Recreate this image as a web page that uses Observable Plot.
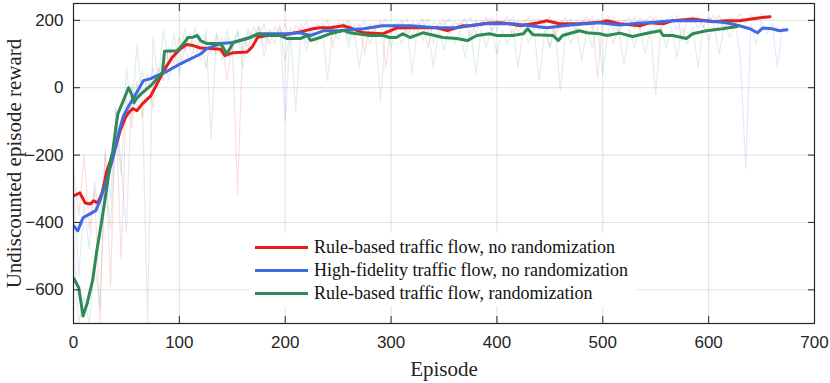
<!DOCTYPE html>
<html><head><meta charset="utf-8">
<script src="https://cdn.jsdelivr.net/npm/d3@7"></script>
<script src="https://cdn.jsdelivr.net/npm/@observablehq/plot@0.6"></script>
<style>
body{margin:0;background:#fff;}
#wrap{position:relative;width:830px;height:383px;}
#legend{position:absolute;left:249px;top:233px;width:388px;height:73px;background:#fff;box-sizing:border-box;padding-top:3px;font-family:"Liberation Serif","Times New Roman",serif;font-size:18px;color:#111;}
.row{display:flex;align-items:center;height:23px;white-space:nowrap;}
.sw{width:53px;height:3px;margin-left:6px;margin-right:6px;flex:none;}
</style>
</head><body>
<div id="wrap"><div id="legend"></div></div>
<script>
// ---- data ----
const seriesNames = ["Rule-based traffic flow, no randomization","High-fidelity traffic flow, no randomization","Rule-based traffic flow, randomization"];
const seriesColors = ["#e31f1c","#4169e1","#2e8b57"];
const xTicks = [0,100,200,300,400,500,600,700];
const yTicks = [-600,-400,-200,0,200];

// smoothed curves
const redEp  = [0,6,11,16,19,23,27,29,31,34,37,40,44,49,52,56,60,65,73,79,87,93,101,107,113,120,126,132,139,143,151,164,169,174,183,195,205,217,226,233,242,255,261,274,292,299,305,318,337,343,353,368,375,393,403,412,422,438,447,459,478,497,504,516,535,544,557,566,585,604,617,629,642,658];
const redVal = [-321,-312,-342,-345,-336,-342,-312,-285,-253,-225,-196,-175,-128,-89,-74,-62,-68,-48,-24,12,59,89,116,128,125,118,117,116,114,95,104,106,122,150,155,155,160,168,175,178,178,184,178,163,160,169,177,178,178,178,170,184,184,192,193,190,184,192,199,190,190,194,199,190,184,193,190,199,204,196,199,199,205,211];

const blueEp  = [0,4,9,16,21,25,32,38,43,47,52,58,66,73,79,88,94,101,108,113,120,126,139,151,164,176,189,202,214,224,236,252,274,292,318,343,362,387,406,415,431,447,472,497,516,535,544,566,598,617,629,639,646,651,660,667,674];
const blueVal = [-410,-425,-386,-374,-365,-336,-267,-200,-130,-85,-55,-24,21,27,36,48,59,71,82,89,100,116,131,134,146,160,160,160,163,155,169,170,175,184,184,178,178,190,190,190,184,178,187,193,186,192,193,199,199,193,184,175,163,177,175,169,172];

const greenEp  = [0,5,9,13,18,22,27,32,35,37,40,42,47,52,55,57,60,65,73,79,84,86,98,104,108,113,117,120,126,139,145,151,164,174,183,195,202,214,221,224,233,242,255,261,268,280,292,299,305,311,318,330,349,362,372,381,393,400,415,425,429,434,453,458,462,478,485,497,504,516,528,544,554,557,566,579,585,598,613,627];
const greenVal = [-565,-594,-678,-639,-573,-484,-389,-285,-217,-190,-119,-77,-39,0,-20,-45,-30,-15,6,27,45,108,110,131,149,150,155,140,131,131,101,135,146,160,155,155,146,146,155,140,149,160,170,163,160,155,155,149,149,160,149,163,149,146,140,155,160,155,155,160,175,157,155,140,155,169,163,160,155,162,152,163,169,155,155,146,160,169,175,182];

// raw (unsmoothed) episode rewards, sampled every 5 episodes
const rawStep = 5;
const redRaw = [-250,-380,-200,-420,-300,-700,-180,-590,-60,-510,-30,-120,20,-90,40,-60,60,20,120,70,150,110,160,90,150,60,140,100,150,20,140,-315,150,120,180,150,190,130,180,160,190,140,185,170,195,150,190,175,200,120,195,180,200,150,190,100,190,170,200,60,185,170,200,150,195,180,205,120,195,180,200,160,195,185,205,140,200,180,210,170,200,190,210,150,200,185,210,175,205,190,210,150,200,185,205,170,200,190,210,30,205,190,210,160,200,185,210,175,200,195,210,170,205,190,215,140,205,195,215,180,210,195,215,170,210,200,220,190,215,200,220,205];
const blueRaw = [-300,-560,-350,-480,-280,-400,-200,-330,-60,-230,-430,10,-60,50,-10,60,0,90,20,110,40,120,70,140,80,150,100,160,110,170,120,165,110,175,140,185,120,175,150,185,-100,180,160,190,130,180,170,195,150,185,170,195,140,185,175,200,150,190,180,205,160,195,185,205,150,195,180,205,130,195,185,205,170,195,185,210,160,200,190,210,170,200,190,210,165,200,185,205,170,195,120,200,185,210,160,200,190,210,175,205,190,215,170,200,190,210,175,205,195,215,180,205,195,215,170,205,195,215,175,205,195,215,170,205,180,200,90,-240,190,130,200,160,190,60,180,165];
const greenRaw = [-450,-700,-620,-700,-520,-650,-260,-420,-90,-260,60,-90,130,-40,-700,150,20,170,70,160,50,175,110,180,100,170,-150,160,80,150,110,170,60,165,120,180,90,170,130,180,80,170,-70,175,110,175,130,185,20,180,140,190,120,180,60,180,130,175,-40,175,120,170,130,180,40,180,140,175,60,170,110,180,130,170,90,175,40,170,120,180,100,170,130,175,60,180,130,175,20,170,120,175,-10,170,130,180,80,175,120,180,40,175,130,180,70,175,120,180,100,175,-20,180,120,175,90,180,130,180,60,185,140,185,100,190,150,190];

// ---- build tables ----
const smooth = [
  ...redEp.map((e,i)=>({ep:e, r:redVal[i], s:seriesNames[0]})),
  ...blueEp.map((e,i)=>({ep:e, r:blueVal[i], s:seriesNames[1]})),
  ...greenEp.map((e,i)=>({ep:e, r:greenVal[i], s:seriesNames[2]}))
];
const raw = [
  ...redRaw.map((v,i)=>({ep:i*rawStep, r:v, s:seriesNames[0]})),
  ...blueRaw.map((v,i)=>({ep:i*rawStep, r:v, s:seriesNames[1]})),
  ...greenRaw.map((v,i)=>({ep:i*rawStep, r:v, s:seriesNames[2]}))
];

const plot = Plot.plot({
  width: 830, height: 383,
  marginLeft: 73, marginRight: 16, marginTop: 3, marginBottom: 60,
  x: {domain: [0, 700]},
  y: {domain: [-700, 250]},
  color: {domain: seriesNames, range: seriesColors},
  style: {fontFamily: "'Liberation Sans', Arial, sans-serif", fontSize: "17px", color: "#262626", background: "#fff", overflow: "visible"},
  marks: [
    Plot.gridX(xTicks, {stroke: "#000", strokeOpacity: 0.12}),
    Plot.gridY(yTicks, {stroke: "#000", strokeOpacity: 0.12}),
    Plot.line(raw, {x: "ep", y: "r", z: "s", stroke: "s", strokeWidth: 1.2, strokeOpacity: 0.14, clip: true}),
    Plot.line(smooth, {x: "ep", y: "r", z: "s", stroke: "s", strokeWidth: 3, clip: true}),
    Plot.frame({stroke: "#262626", strokeWidth: 1.2}),
    Plot.axisX(xTicks, {anchor: "bottom", tickSize: -7, tickPadding: 19, label: null, stroke: "#262626"}),
    Plot.axisX(xTicks, {anchor: "top", tickSize: -7, tickFormat: () => "", label: null, stroke: "#262626"}),
    Plot.axisY(yTicks, {anchor: "left", tickSize: -7, tickPadding: 17, label: null, stroke: "#262626"}),
    Plot.axisY(yTicks, {anchor: "right", tickSize: -7, tickFormat: () => "", label: null, stroke: "#262626"}),
    Plot.text(["Episode"], {frameAnchor: "bottom", dy: 52, textAnchor: "middle", fontFamily: "'Liberation Serif', 'Times New Roman', serif", fontSize: 21, fill: "#262626"}),
    Plot.text(["Undiscounted episode reward"], {frameAnchor: "left", dx: -59, rotate: -90, textAnchor: "middle", fontFamily: "'Liberation Serif', 'Times New Roman', serif", fontSize: 21, fill: "#262626"})
  ]
});
const wrap = document.getElementById("wrap");
wrap.insertBefore(plot, wrap.firstChild);

const legend = document.getElementById("legend");
seriesNames.forEach((n,i)=>{
  const row = document.createElement("div"); row.className = "row";
  const sw = document.createElement("div"); sw.className = "sw"; sw.style.background = seriesColors[i];
  const t = document.createElement("span"); t.textContent = n;
  row.appendChild(sw); row.appendChild(t); legend.appendChild(row);
});
</script>
</body></html>
